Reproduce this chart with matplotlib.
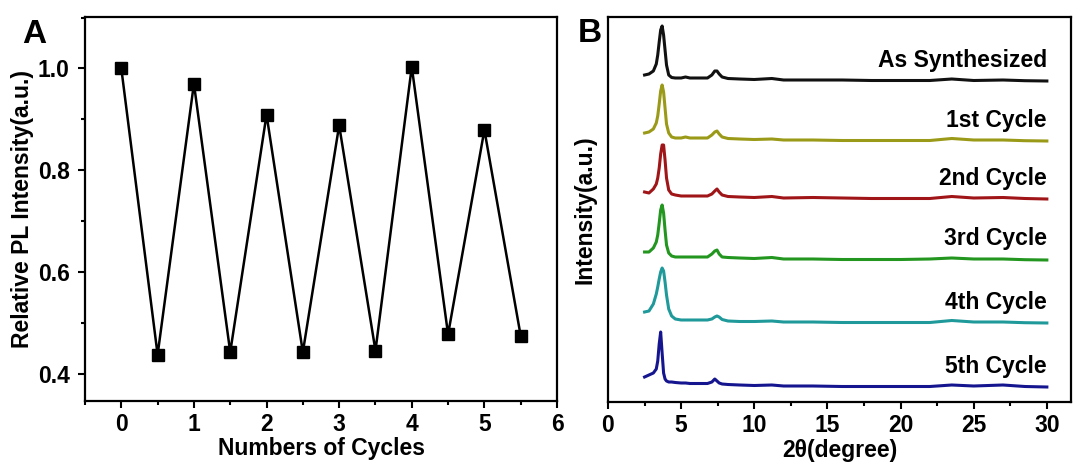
import matplotlib
matplotlib.use("Agg")
import matplotlib.pyplot as plt
from matplotlib.ticker import MultipleLocator

plt.rcParams['font.family'] = ['Liberation Sans', 'DejaVu Sans']
plt.rcParams['font.weight'] = 'bold'
plt.rcParams['mathtext.default'] = 'regular'

# ---------------- Panel A data ----------------
cycles = [0, 0.5, 1, 1.5, 2, 2.5, 3, 3.5, 4, 4.5, 5, 5.5]
rel_pl = [1.0, 0.437, 0.97, 0.442, 0.909, 0.442, 0.888, 0.445, 1.003, 0.477, 0.879, 0.474]

# ---------------- Panel B data ----------------
two_theta = [2.5, 2.8, 3.1, 3.3, 3.4, 3.5, 3.6, 3.7, 3.8, 3.9, 4.0, 4.15, 4.35, 4.6,
             5.0, 5.3, 5.6, 6.0, 6.8, 7.1, 7.3, 7.45, 7.6, 7.8, 8.2, 9.0, 10.0, 11.2,
             12.0, 14.0, 16.0, 18.0, 20.0, 22.0, 23.5, 25.0, 27.0, 28.5, 30.0]
xrd_as_synth = [6, 7, 10, 17, 26, 39, 51, 55, 46, 31, 16, 6, 3.5, 3, 3, 4, 3, 3, 3, 6, 10, 10, 7, 4,
                2.5, 2, 1.5, 2.5, 1, 1, 1, 0.5, 0.5, 0.5, 2, 0.5, 1, 0.3, 0]
xrd_cycle1 = [8, 9, 12, 18, 25, 37, 50, 56, 49, 33, 17, 8, 4, 3, 3, 4, 3, 3, 3, 6, 9, 10, 7, 4,
              2.5, 2, 1.5, 2, 1, 1, 0.5, 0.5, 0.5, 0.5, 2.5, 1, 1, 0.3, 0]
xrd_cycle2 = [7, 6, 10, 15, 21, 31, 45, 54, 54, 39, 21, 9, 5, 4, 3, 3, 3, 3, 3, 5, 8, 10, 7, 4,
              2.5, 2, 1.5, 2.5, 1, 1.5, 1, 0.5, 0.5, 0.5, 2.5, 1, 1.5, 0.5, 0]
xrd_cycle3 = [8, 8, 12, 18, 25, 37, 50, 55, 47, 30, 15, 7, 4, 3, 3, 3, 3, 3, 3, 6, 9, 10, 6, 3,
              2.5, 2, 1.5, 2.5, 1, 1, 0.5, 0.5, 0.5, 1, 2, 1, 1, 0.3, 0]
xrd_cycle4 = [11, 12, 19, 29, 36, 44, 51, 55, 52, 41, 28, 14, 7, 4, 3, 3, 3, 3, 3, 4, 6, 7, 6, 3.5,
              2, 1.5, 1.5, 2, 1, 1, 0.5, 0.5, 0.5, 0.5, 2.5, 1, 1, 0.3, 0]
xrd_cycle5 = [10, 12, 14, 18, 26, 43, 55, 34, 14, 8, 6, 5, 5, 4.5, 4, 4, 3.5, 3.5, 3.5, 5, 8, 6, 4, 3,
              2.5, 2, 1.5, 2, 1, 1, 0.5, 0.5, 0.5, 0.5, 2, 1, 2, 0.5, 0]
series_labels = ["As Synthesized", "1st Cycle", "2nd Cycle", "3rd Cycle", "4th Cycle", "5th Cycle"]
series_values = [xrd_as_synth, xrd_cycle1, xrd_cycle2, xrd_cycle3, xrd_cycle4, xrd_cycle5]

# styling / stacking
offsets = [321, 261, 203, 142, 79, 15]
colors = ["#111111", "#9a9a18", "#a01518", "#22961f", "#20999a", "#15168f"]

fig = plt.figure(figsize=(10.73, 4.63), dpi=100)
FS = 16.5

def style_axes(ax):
    for s in ax.spines.values():
        s.set_linewidth(1.6)
    ax.tick_params(which='major', direction='out', length=5, width=1.5, pad=4,
                   labelsize=FS, top=False, right=False)
    ax.tick_params(which='minor', direction='out', length=3, width=1.5,
                   top=False, right=False)

# ---------------- Panel A ----------------
axA = fig.add_axes([85/1073, (463-400.5)/463, 472/1073, 383.5/463])
axA.plot(cycles, rel_pl, color='black', lw=1.8, marker='s', ms=8,
         markerfacecolor='black', markeredgecolor='black')
axA.set_xlim(-0.5, 6)
axA.set_ylim(0.347, 1.101)
axA.set_xticks([0, 1, 2, 3, 4, 5, 6])
axA.xaxis.set_minor_locator(MultipleLocator(0.5))
axA.set_yticks([0.4, 0.6, 0.8, 1.0])
axA.yaxis.set_minor_locator(MultipleLocator(0.1))
style_axes(axA)
axA.tick_params(axis='y', which='major', pad=6)
axA.set_xlabel("Numbers of Cycles", fontsize=FS, fontweight='bold', labelpad=1)
axA.set_ylabel("Relative PL Intensity(a.u.)", fontsize=FS, fontweight='bold', labelpad=3)
fig.text(22/1073, 1 - 43/463, "A", fontsize=24, fontweight='bold', ha='left', va='baseline')

# ---------------- Panel B ----------------
axB = fig.add_axes([608/1073, (463-402)/463, 463/1073, 385/463])
for lab, vals, off, col in zip(series_labels, series_values, offsets, colors):
    axB.plot(two_theta, [v + off for v in vals], color=col, lw=2.2)
    axB.text(30, off + 21, lab, fontsize=FS, fontweight='bold', ha='right', va='center')
axB.set_xlim(0, 31.65)
axB.set_ylim(0, 385)
axB.set_xticks([0, 5, 10, 15, 20, 25, 30])
axB.xaxis.set_minor_locator(MultipleLocator(2.5))
axB.set_yticks([])
style_axes(axB)
axB.set_xlabel("2θ(degree)", fontsize=FS, fontweight='bold', labelpad=1)
axB.set_ylabel("Intensity(a.u.)", fontsize=FS, fontweight='bold', labelpad=8)
fig.text(578/1073, 1 - 42/463, "B", fontsize=24, fontweight='bold', ha='left', va='baseline')

fig.savefig("out.png", dpi=100)
